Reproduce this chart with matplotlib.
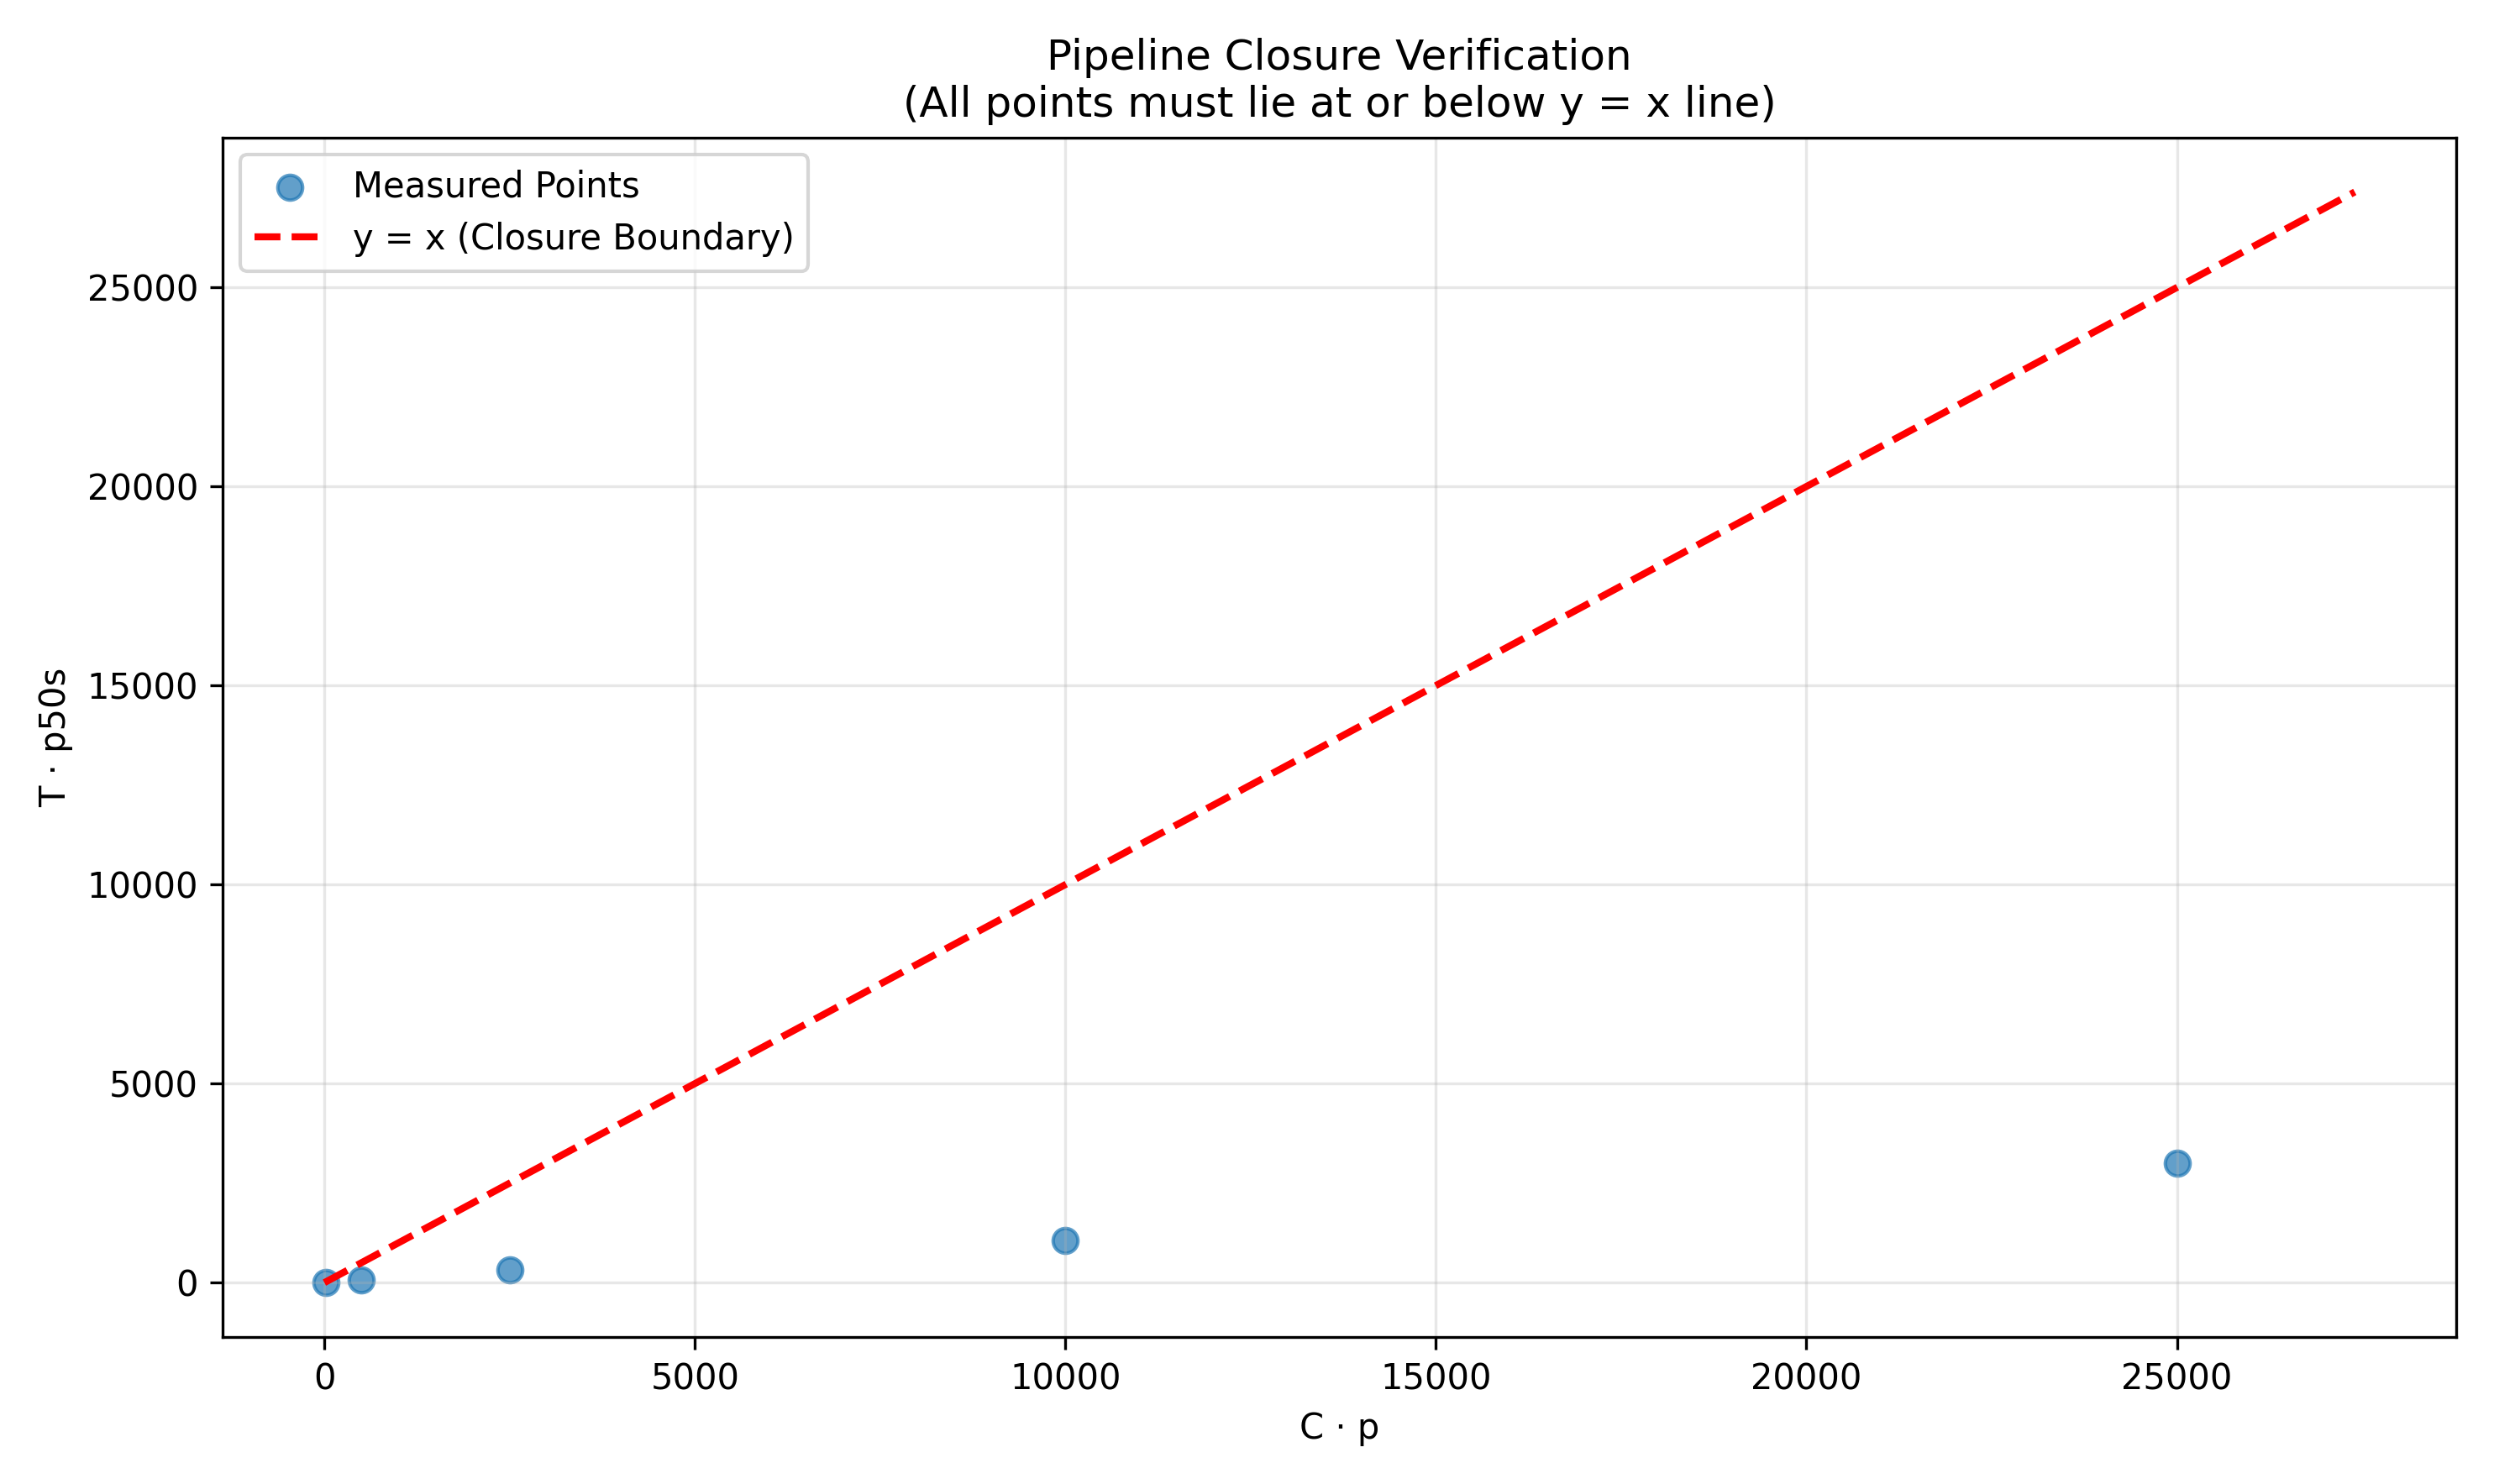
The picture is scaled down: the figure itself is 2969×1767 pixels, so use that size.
import matplotlib
matplotlib.use("Agg")
import matplotlib.pyplot as plt
import numpy as np

cp = [25, 500, 2500, 10000, 25000]
tp50 = [5, 60, 320, 1050, 3000]
line_max = 27400

fig, ax = plt.subplots(figsize=(9.897, 5.89), dpi=300)
ax.scatter(cp, tp50, s=50, alpha=0.7, label="Measured Points")
ax.plot([0, line_max], [0, line_max], "r--", linewidth=2, label="y = x (Closure Boundary)")
ax.set_xlabel("C · p")
ax.set_ylabel("T · p50s")
ax.set_title("Pipeline Closure Verification\n(All points must lie at or below y = x line)")
ax.legend(loc="upper left")
ax.grid(True, alpha=0.3)
fig.tight_layout()
fig.savefig("out.png", dpi=300)
